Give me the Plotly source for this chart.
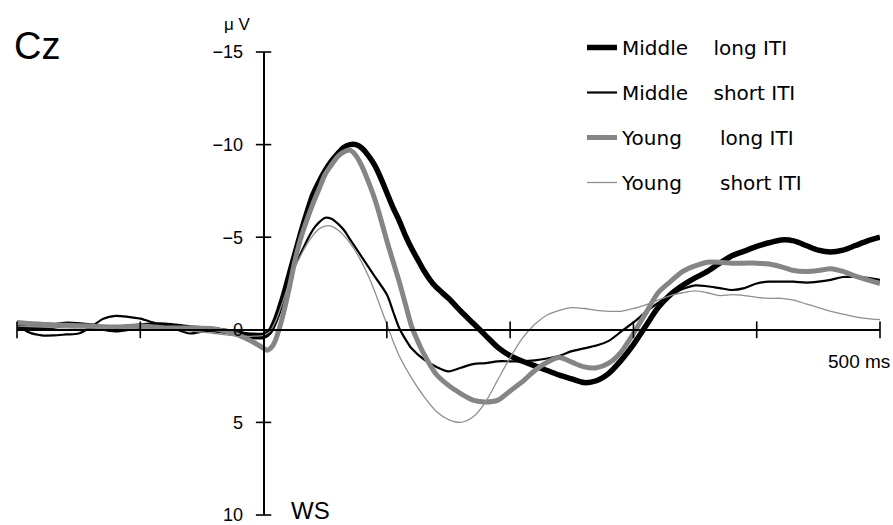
import plotly.graph_objects as go

# ---------------- data (time in ms, amplitude in µV) ----------------
t_ml = [-200, -180, -160, -140, -120, -100, -80, -60, -40, -20, -10, 0, 5,
        10, 15, 20, 25, 30, 35, 40, 45, 50, 55, 60, 65, 70, 75, 80, 85, 90, 95,
        100, 105, 110, 115, 120, 125, 130, 135, 140,
        150, 160, 170, 180, 190, 200, 210, 220, 230, 240, 250, 260, 270, 280,
        290, 300, 310, 320, 330, 340, 350, 360, 370, 380, 390, 400, 410, 420,
        430, 440, 450, 460, 470, 480, 490, 500]
v_ml = [-0.2, -0.1, -0.3, -0.2, 0.0, -0.2, -0.25, -0.1, 0.0, 0.2, 0.35, 0.35, 0.1,
        -0.6, -1.6, -2.8, -4.0, -5.2, -6.3, -7.3, -8.0, -8.6, -9.1, -9.5, -9.85, -10.0, -10.0, -9.8, -9.4, -8.9, -8.2,
        -7.4, -6.6, -5.9, -5.1, -4.4, -3.8, -3.2, -2.7, -2.3,
        -1.7, -1.0, -0.35, 0.3, 0.95, 1.4, 1.7, 1.95, 2.2, 2.45, 2.65, 2.85, 2.75, 2.35,
        1.65, 0.8, -0.2, -1.2, -1.9, -2.4, -2.8, -3.15, -3.6, -4.0, -4.25, -4.5, -4.7, -4.85,
        -4.8, -4.55, -4.3, -4.2, -4.3, -4.55, -4.8, -5.0]

t_ms = [-200, -190, -180, -170, -160, -150, -140, -130, -120, -110, -100, -90, -80,
        -70, -60, -50, -40, -30, -20, -10, 0, 5,
        10, 15, 20, 25, 30, 35, 40, 45, 50, 55, 60, 65, 70, 80, 90, 100, 105, 110, 115, 120,
        130, 140, 150, 160, 170, 180, 190, 200, 210, 220, 230, 240, 250, 260, 270, 280,
        290, 300, 310, 320, 330, 340, 350, 360, 370, 380, 390, 400, 410, 420, 430, 440,
        450, 460, 470, 480, 490, 500]
v_ms = [-0.3, 0.15, 0.3, 0.3, 0.25, 0.2, -0.15, -0.6, -0.75, -0.7, -0.6, -0.4, -0.2,
        0.0, 0.2, 0.1, 0.0, 0.1, 0.15, 0.2, 0.2, 0.0,
        -0.6, -1.5, -2.5, -3.4, -4.1, -4.8, -5.4, -5.8, -6.05, -6.0, -5.75, -5.4, -4.9, -3.9, -2.9, -1.9, -1.0, -0.1, 0.5, 1.0,
        1.6, 2.0, 2.25, 2.05, 1.85, 1.8, 1.7, 1.7, 1.7, 1.65, 1.55, 1.4, 1.15, 1.0, 0.85, 0.6,
        0.1, -0.4, -0.95, -1.45, -1.85, -2.2, -2.4, -2.35, -2.25, -2.15, -2.25, -2.5, -2.6, -2.6, -2.6, -2.55,
        -2.6, -2.7, -2.85, -2.85, -2.8, -2.7]

t_yl = [-200, -180, -160, -140, -120, -100, -80, -60, -40, -30, -20, -10, 0, 3, 7,
        10, 15, 20, 25, 30, 35, 40, 45, 50, 55, 60, 65, 70, 75, 80, 85, 90, 95,
        100, 105, 110, 115, 120, 125, 130, 140,
        150, 160, 170, 180, 190, 200, 210, 220, 230, 240, 250, 260, 270, 280,
        290, 300, 310, 320, 330, 340, 350, 360, 370, 380, 390, 400, 410, 420,
        430, 440, 450, 460, 470, 480, 490, 500]
v_yl = [-0.4, -0.3, -0.25, -0.2, -0.15, -0.2, -0.1, -0.1, -0.05, 0.1, 0.3, 0.6, 1.0, 1.1, 0.9,
        0.5, -0.6, -2.0, -3.6, -4.9, -5.9, -6.8, -7.6, -8.4, -8.9, -9.35, -9.6, -9.7, -9.4, -8.8, -8.0, -7.1, -6.0,
        -4.8, -3.7, -2.6, -1.4, -0.2, 0.6, 1.3, 2.4,
        3.0, 3.45, 3.8, 3.9, 3.8, 3.3, 2.8, 2.2, 1.75, 1.5, 1.75, 2.0, 2.05, 1.8,
        1.2, 0.2, -0.9, -2.0, -2.6, -3.15, -3.45, -3.65, -3.65, -3.6, -3.6, -3.6, -3.55, -3.4,
        -3.2, -3.15, -3.2, -3.3, -3.15, -2.9, -2.7, -2.5]

t_ys = [-200, -180, -160, -140, -120, -100, -80, -60, -40, -20, -10, 0, 5,
        10, 15, 20, 25, 30, 35, 40, 45, 50, 55, 60, 65, 70, 75, 80, 85, 90, 95,
        100, 105, 110, 120, 130, 140,
        150, 160, 170, 180, 190, 200, 210, 220, 230, 240, 250, 260, 270, 280,
        290, 300, 310, 320, 330, 340, 350, 360, 370, 380, 390, 400, 410, 420,
        430, 440, 450, 460, 470, 480, 490, 500]
v_ys = [-0.2, -0.15, -0.1, -0.1, -0.1, -0.05, 0.0, 0.05, 0.2, 0.35, 0.35, 0.3, 0.1,
        -0.5, -1.4, -2.4, -3.3, -4.0, -4.6, -5.1, -5.45, -5.6, -5.6, -5.4, -5.1, -4.7, -4.2, -3.6, -2.9, -2.1, -1.2,
        -0.3, 0.6, 1.4, 2.6, 3.6, 4.4,
        4.85, 5.0, 4.7, 3.9, 2.7, 1.5, 0.45, -0.3, -0.8, -1.05, -1.2, -1.15, -1.05, -1.0,
        -1.0, -1.15, -1.35, -1.6, -1.85, -2.0, -2.1, -2.0, -1.85, -1.9, -1.85, -1.75, -1.7, -1.7,
        -1.6, -1.4, -1.2, -1.0, -0.85, -0.7, -0.6, -0.55]

NB = "\u00a0"
series_names = ["Middle" + NB * 4 + "long ITI",
                "Middle" + NB * 4 + "short ITI",
                "Young" + NB * 6 + "long ITI",
                "Young" + NB * 6 + "short ITI"]

y_ticks = [-15, -10, -5, 0, 5, 10]
y_tick_marks = [-15, -10, -5, 5, 10]
x_tick_marks = [-200, -100, 100, 200, 300, 400, 500]
x_range = [-200, 500]
y_range = [10, -15]

# ---------------- figure ----------------
FONT = "Liberation Sans, Arial, sans-serif"
LEGEND_FONT = "DejaVu Sans, sans-serif"
fig = go.Figure()

styles = [("#000000", 5.5), ("#000000", 2.2), ("#858585", 5.0), ("#8f8f8f", 1.3)]
data = [(t_ml, v_ml), (t_ms, v_ms), (t_yl, v_yl), (t_ys, v_ys)]
for name, (t, v), (col, w) in zip(series_names, data, styles):
    fig.add_trace(go.Scatter(x=t, y=v, mode="lines", name=name, legendgroup=name,
                             line=dict(color=col, width=w, shape="spline", smoothing=0.8),
                             hoverinfo="skip"))

# cross tick marks on both axes
fig.add_trace(go.Scatter(x=[0] * len(y_tick_marks), y=y_tick_marks, mode="markers",
                         marker=dict(symbol="line-ew", size=11, line=dict(width=1.6, color="black")),
                         showlegend=False, hoverinfo="skip", cliponaxis=False))
fig.add_trace(go.Scatter(x=x_tick_marks, y=[0] * len(x_tick_marks), mode="markers",
                         marker=dict(symbol="line-ns", size=12, line=dict(width=1.6, color="black")),
                         showlegend=False, hoverinfo="skip", cliponaxis=False))

x_pos = (0 - x_range[0]) / (x_range[1] - x_range[0])
y_pos = (y_range[0] - 0) / (y_range[0] - y_range[1])

fig.update_layout(
    width=893, height=525,
    margin=dict(l=17, r=13, t=52, b=10, autoexpand=False),
    paper_bgcolor="white", plot_bgcolor="white",
    font=dict(family=FONT, color="black"),
    xaxis=dict(range=x_range, showline=True, linecolor="black", linewidth=2,
               anchor="free", position=y_pos, showgrid=False, zeroline=False,
               showticklabels=False, ticks="", automargin=False),
    yaxis=dict(range=y_range, showline=True, linecolor="black", linewidth=2,
               anchor="free", position=x_pos, showgrid=False, zeroline=False,
               tickvals=y_ticks, ticks="", ticklabelstandoff=16, ticklabeloverflow="allow",
               automargin=False,
               tickfont=dict(size=18, family=FONT, color="black")),
    showlegend=True,
    legend=dict(x=(582 - 17) / 863, y=1 + (52 - 28) / 463, xanchor="left", yanchor="top",
                traceorder="grouped", tracegroupgap=16, bgcolor="rgba(0,0,0,0)",
                font=dict(size=20, family=LEGEND_FONT, color="black")),
)

fig.add_annotation(text="Cz", xref="paper", yref="paper", x=(12 - 17) / 863, y=(515 - 46) / 463,
                   xanchor="left", yanchor="middle", showarrow=False,
                   font=dict(size=38, family=FONT, color="black"))
fig.add_annotation(text="\u03bc V", xref="paper", yref="paper", x=(237 - 17) / 863, y=(515 - 25) / 463,
                   xanchor="center", yanchor="middle", showarrow=False,
                   font=dict(size=17, family=FONT, color="black"))
fig.add_annotation(text="WS", x=21, y=9.75, xanchor="left", yanchor="middle", showarrow=False,
                   font=dict(size=24, family=FONT, color="black"))
fig.add_annotation(text="500 ms", x=500, y=1.7, xanchor="right", yanchor="middle", xshift=12,
                   showarrow=False, font=dict(size=19, family=FONT, color="black"))

fig.write_html("out.html", config={"displayModeBar": False},
               post_script="document.body.style.margin='0';document.body.style.padding='0';")
